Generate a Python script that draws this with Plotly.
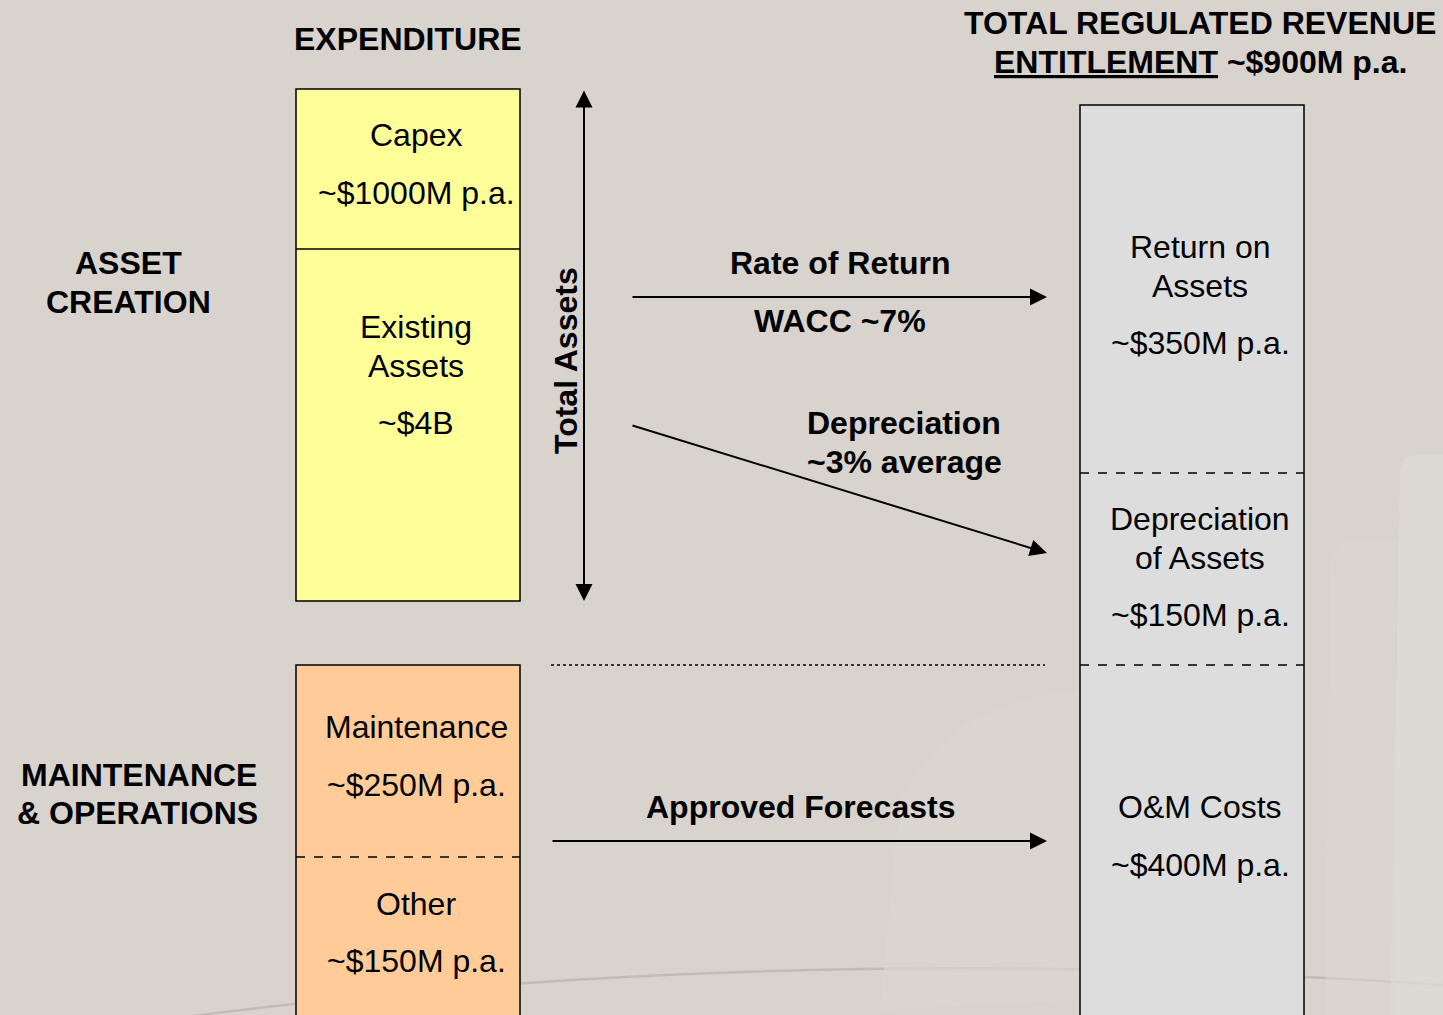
import plotly.graph_objects as go

# ---- data (text content of the diagram) ----
left_headings = ["ASSET", "CREATION", "MAINTENANCE", "& OPERATIONS"]
expenditure_title = "EXPENDITURE"
capex_lines = ["Capex", "~$1000M p.a."]
existing_lines = ["Existing", "Assets", "~$4B"]
maintenance_lines = ["Maintenance", "~$250M p.a."]
other_lines = ["Other", "~$150M p.a."]
revenue_title = ["TOTAL REGULATED REVENUE", "<u>ENTITLEMENT</u> ~$900M p.a."]
return_lines = ["Return on", "Assets", "~$350M p.a."]
deprec_lines = ["Depreciation", "of Assets", "~$150M p.a."]
om_lines = ["O&M Costs", "~$400M p.a."]
arrow_labels = ["Rate of Return", "WACC ~7%", "Depreciation", "~3% average", "Approved Forecasts"]
axis_label = "Total Assets"

W, H = 1443, 1015
BG = "#D8D3CD"
FONT = "Liberation Sans, Arial, sans-serif"

fig = go.Figure()
shapes = []
ann = []

def txt(x, y, s, size=32, bold=False, angle=0):
    ann.append(dict(x=x, y=y, xref="x", yref="y", text=(f"<b>{s}</b>" if bold else s),
                    showarrow=False, xanchor="center", yanchor="middle", textangle=angle,
                    font=dict(family=FONT, size=size, color="#000000")))

def arrow(x0, y0, x1, y1, both=False):
    ann.append(dict(x=x1, y=y1, ax=x0, ay=y0, xref="x", yref="y", axref="x", ayref="y",
                    text="", showarrow=True, arrowhead=2, arrowsize=1.7, arrowwidth=2,
                    arrowcolor="#000000", arrowside=("end+start" if both else "end"),
                    standoff=0, startstandoff=0))

# faint background decorations
shapes.append(dict(type="path", path="M 60,1035 Q 700,935 1443,985",
                   line=dict(color="#B5AEA8", width=2.5), layer="below", opacity=0.6))
shapes.append(dict(type="path", path="M 1400,470 Q 1400,455 1420,455 L 1460,455 L 1460,1030 L 1390,1030 Z",
                   fillcolor="#E0DBD6", line=dict(width=0), layer="below", opacity=0.7))
shapes.append(dict(type="path", path="M 1330,560 Q 1335,540 1360,540 L 1395,540 L 1395,1030 L 1325,1030 Z",
                   fillcolor="#DCD7D2", line=dict(width=0), layer="below", opacity=0.5))
shapes.append(dict(type="path", path="M 900,800 Q 950,700 1080,690 L 1080,1000 L 880,1010 Z",
                   fillcolor="#DCD7D1", line=dict(width=0), layer="below", opacity=0.6))

# expenditure boxes
shapes.append(dict(type="rect", x0=296, y0=89, x1=520, y1=601, fillcolor="#FFFF99",
                   line=dict(color="#000000", width=1.5)))
shapes.append(dict(type="line", x0=296, y0=249, x1=520, y1=249, line=dict(color="#000000", width=1.5)))
shapes.append(dict(type="rect", x0=296, y0=665, x1=520, y1=1030, fillcolor="#FFCC99",
                   line=dict(color="#000000", width=1.5)))
shapes.append(dict(type="line", x0=296, y0=857, x1=520, y1=857,
                   line=dict(color="#000000", width=1.5, dash="dash")))

# revenue box
shapes.append(dict(type="rect", x0=1080, y0=105, x1=1304, y1=1030, fillcolor="#DDDDDD",
                   line=dict(color="#000000", width=1.5)))
for yy in (473, 665):
    shapes.append(dict(type="line", x0=1080, y0=yy, x1=1304, y1=yy,
                       line=dict(color="#000000", width=1.5, dash="dash")))

# dotted separator
shapes.append(dict(type="line", x0=551, y0=665, x1=1045, y1=665,
                   line=dict(color="#000000", width=1.3, dash="dot")))

# arrows
arrow(584, 89, 584, 601, both=True)
arrow(631, 297, 1047, 297)
arrow(631, 425, 1047, 553)
arrow(551, 841, 1047, 841)

# text
txt(128, 263, left_headings[0], bold=True)
txt(128, 302, left_headings[1], bold=True)
txt(139, 775, left_headings[2], bold=True)
txt(137, 813, left_headings[3], bold=True)
txt(408, 39, expenditure_title, bold=True)
for s, y in zip(capex_lines, (135, 193)):
    txt(416, y, s)
for s, y in zip(existing_lines, (327, 366, 423)):
    txt(416, y, s)
for s, y in zip(maintenance_lines, (727, 785)):
    txt(416, y, s)
for s, y in zip(other_lines, (904, 961)):
    txt(416, y, s)
for s, y in zip(revenue_title, (23, 62)):
    txt(1200, y, s, bold=True)
for s, y in zip(return_lines, (247, 286, 343)):
    txt(1200, y, s)
for s, y in zip(deprec_lines, (519, 558, 615)):
    txt(1200, y, s)
for s, y in zip(om_lines, (807, 865)):
    txt(1200, y, s)
txt(840, 263, arrow_labels[0], bold=True)
txt(840, 321, arrow_labels[1], bold=True)
txt(904, 423, arrow_labels[2], bold=True)
txt(904, 462, arrow_labels[3], bold=True)
txt(800, 807, arrow_labels[4], bold=True)
txt(566, 361, axis_label, bold=True, angle=-90)

fig.update_layout(
    width=W, height=H, margin=dict(l=0, r=0, t=0, b=0),
    paper_bgcolor=BG, plot_bgcolor=BG, showlegend=False,
    xaxis=dict(range=[0, W], visible=False, fixedrange=True),
    yaxis=dict(range=[H, 0], visible=False, fixedrange=True),
    shapes=shapes, annotations=ann,
)
fig.write_html("out.html", config={"displayModeBar": False},
               post_script="document.body.style.margin='0';document.body.style.overflow='hidden';document.body.style.background='" + BG + "';")
